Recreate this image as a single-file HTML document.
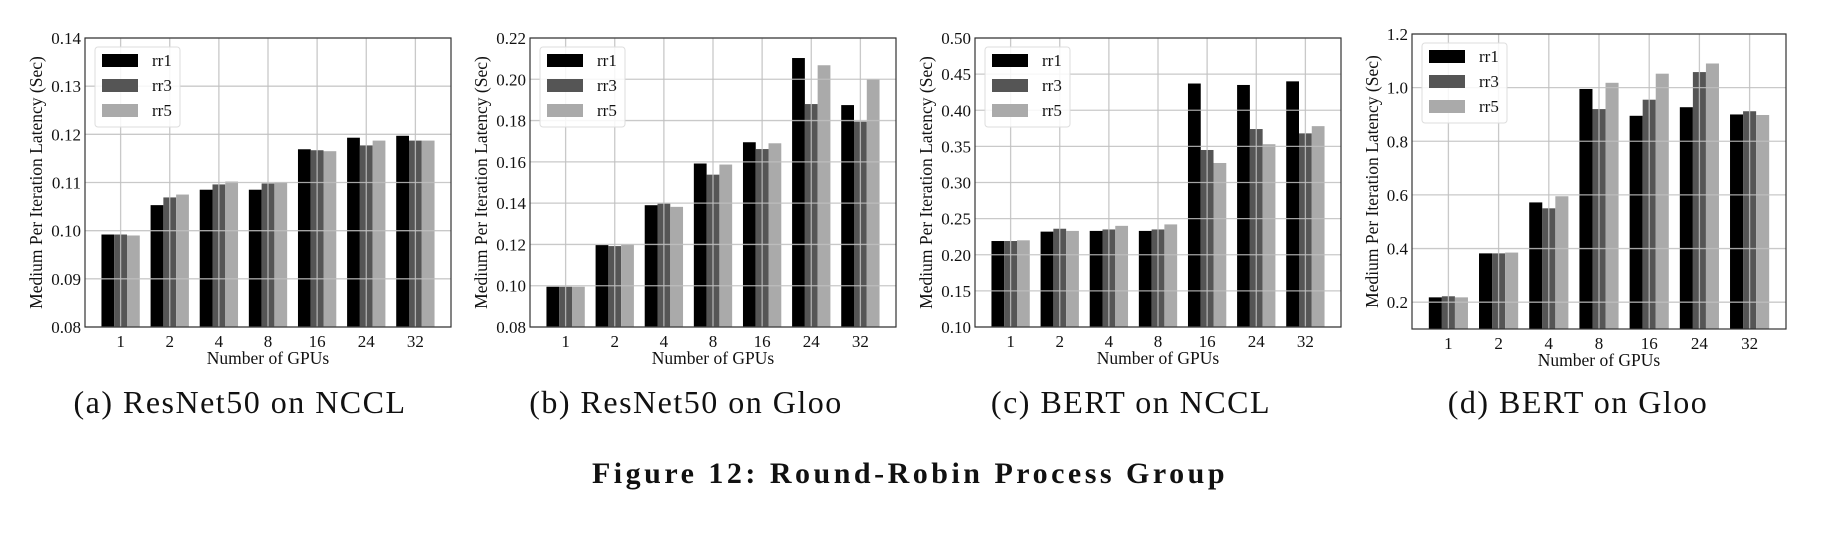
<!DOCTYPE html>
<html><head><meta charset="utf-8"><style>
html,body{margin:0;padding:0;background:#fff;}
svg{display:block;}
text{font-family:"Liberation Serif",serif;fill:#111;}
</style></head><body>
<svg id="fig" width="1832" height="534" viewBox="0 0 1832 534" xmlns="http://www.w3.org/2000/svg"></svg>
<script>
const categories = ["1","2","4","8","16","24","32"];
const seriesNames = ["rr1","rr3","rr5"];
const aRR1 = [0.0992,0.1053,0.1085,0.1085,0.1169,0.1193,0.1197];
const aRR3 = [0.0992,0.1069,0.1096,0.1098,0.1167,0.1177,0.1187];
const aRR5 = [0.0990,0.1075,0.1102,0.1100,0.1165,0.1187,0.1187];
const bRR1 = [0.0995,0.1197,0.1390,0.1592,0.1695,0.2103,0.1875];
const bRR3 = [0.0995,0.1192,0.1398,0.1538,0.1662,0.1880,0.1795];
const bRR5 = [0.0995,0.1200,0.1382,0.1587,0.1690,0.2068,0.2000];
const cRR1 = [0.219,0.232,0.233,0.233,0.437,0.435,0.440];
const cRR3 = [0.219,0.236,0.235,0.235,0.345,0.374,0.368];
const cRR5 = [0.220,0.233,0.240,0.242,0.327,0.353,0.378];
const dRR1 = [0.218,0.382,0.572,0.995,0.895,0.927,0.900];
const dRR3 = [0.222,0.382,0.550,0.920,0.955,1.058,0.912];
const dRR5 = [0.218,0.385,0.595,1.018,1.052,1.090,0.898];
const aTicks = ["0.08","0.09","0.10","0.11","0.12","0.13","0.14"];
const bTicks = ["0.08","0.10","0.12","0.14","0.16","0.18","0.20","0.22"];
const cTicks = ["0.10","0.15","0.20","0.25","0.30","0.35","0.40","0.45","0.50"];
const dTicks = ["0.2","0.4","0.6","0.8","1.0","1.2"];

const NS="http://www.w3.org/2000/svg";
const svg=document.getElementById('fig');
const colors=["#000000","#555555","#aaaaaa"];
function mk(tag,attrs,parent){const e=document.createElementNS(NS,tag);for(const k in attrs)e.setAttribute(k,attrs[k]);(parent||svg).appendChild(e);return e;}

const panels=[
 {id:'a',L:85,R:451,T:38,B:327,ymin:0.08,ymax:0.14,ticks:aTicks,series:[aRR1,aRR3,aRR5],cap:"(a) ResNet50 on NCCL",capx:240,ytx:36},
 {id:'b',L:530,R:896,T:38,B:327,ymin:0.08,ymax:0.22,ticks:bTicks,series:[bRR1,bRR3,bRR5],cap:"(b) ResNet50 on Gloo",capx:686,ytx:481},
 {id:'c',L:975,R:1341,T:38,B:327,ymin:0.10,ymax:0.50,ticks:cTicks,series:[cRR1,cRR3,cRR5],cap:"(c) BERT on NCCL",capx:1131,ytx:926},
 {id:'d',L:1412,R:1786,T:34,B:329,ymin:0.1,ymax:1.2,ticks:dTicks,series:[dRR1,dRR3,dRR5],cap:"(d) BERT on Gloo",capx:1578,ytx:1372}
];

panels.forEach(p=>{
 const g=mk('g',{});
 
 
 const n=categories.length;
 const slot=(p.R-p.L)/(n-1+1.45);
 const xc=i=>p.L+slot*(0.725+i);
 const y=v=>p.B-(v-p.ymin)/(p.ymax-p.ymin)*(p.B-p.T);
 const bw=slot*0.26;
 p.series.forEach((s,si)=>{
  s.forEach((v,i)=>{
   const r=mk('rect',{x:xc(i)+(si-1.5)*bw,y:y(v),width:bw,height:p.B-y(v),fill:colors[si]},g);
   
   
  });
 });
 categories.forEach((c,i)=>{
  const l=mk('line',{x1:xc(i),x2:xc(i),y1:p.T,y2:p.B,stroke:'#c0c0c0','stroke-width':1.3,'stroke-opacity':0.85},g);
  
  
  const t=mk('text',{x:xc(i),y:p.B+20,'text-anchor':'middle','font-size':17},g);
  t.textContent=c;
  
  
 });
 p.ticks.forEach(tk=>{
  const v=parseFloat(tk);const yy=y(v);
  const l=mk('line',{x1:p.L,x2:p.R,y1:yy,y2:yy,stroke:'#c0c0c0','stroke-width':1.3,'stroke-opacity':0.85},g);
  
  
  const t=mk('text',{x:p.L-4,y:yy+6,'text-anchor':'end','font-size':17},g);
  t.textContent=tk;
  
  
 });
 const fr=mk('rect',{x:p.L,y:p.T,width:p.R-p.L,height:p.B-p.T,fill:'none',stroke:'#333','stroke-width':1.2},g);
 
 
 const lg=mk('g',{},g);
 
 
 const lx=p.L+10,ly=p.T+9;
 mk('rect',{x:lx,y:ly,width:85,height:80,rx:3,fill:'#fff','fill-opacity':0.85,stroke:'#ddd'},lg);
 seriesNames.forEach((nm,si)=>{
  const e=mk('g',{},lg);
  
  
  mk('rect',{x:lx+7,y:ly+7+si*25,width:36,height:13,fill:colors[si]},e);
  const t=mk('text',{x:lx+57,y:ly+19+si*25,'font-size':17},e);
  t.textContent=nm;
 });
 const xt=mk('text',{x:(p.L+p.R)/2,y:p.B+37,'text-anchor':'middle','font-size':17.5},g);
 xt.textContent="Number of GPUs";
 
 
 const cy=(p.T+p.B)/2;
 const yt=mk('text',{x:p.ytx,y:cy,'text-anchor':'middle','font-size':17.5,transform:`rotate(-90 ${p.ytx} ${cy})`,dy:6},g);
 yt.textContent="Medium Per Iteration Latency (Sec)";
 
 
 const cp=mk('text',{x:p.capx,y:413,'text-anchor':'middle','font-size':32,'letter-spacing':'1.5'},g);
 cp.textContent=p.cap;
 
 
});
const ft=mk('text',{x:910,y:483,'text-anchor':'middle','font-size':30,'font-weight':'bold','letter-spacing':'3.5'});
ft.textContent="Figure 12: Round-Robin Process Group";


</script>
</body></html>
